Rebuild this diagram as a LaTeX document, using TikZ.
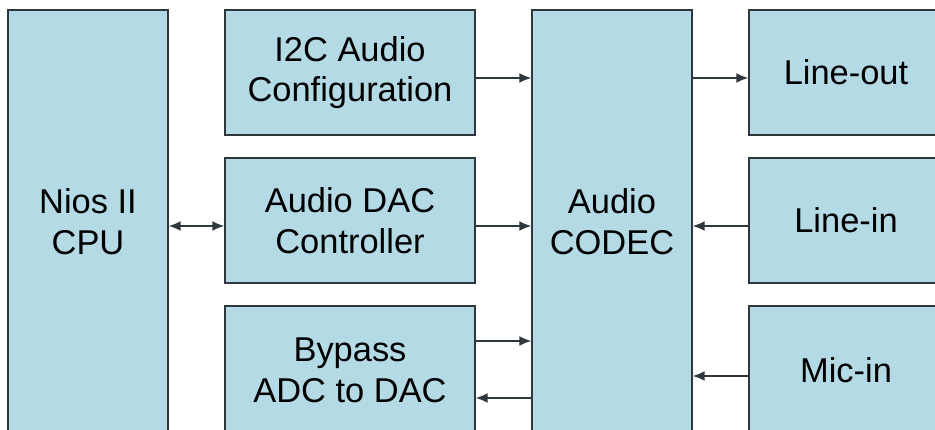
\documentclass[tikz,border=0pt]{standalone}
\usepackage{fontspec}
\setmainfont{Liberation Sans}
\usetikzlibrary{arrows.meta}
\definecolor{boxblue}{RGB}{180,218,230}
\definecolor{boxline}{RGB}{45,55,60}
\tikzset{
  >={Latex[length=8.5pt,width=7pt]},
  block/.style={draw=boxline,fill=boxblue,line width=1pt,inner sep=0pt,align=center,
    text=black,font=\fontsize{24.5}{29}\selectfont},
  block tall/.style={block,minimum width=4cm,minimum height=10.6cm},
  block mid/.style={block,minimum width=6.25cm,minimum height=3.125cm},
  block port/.style={block,minimum width=4.85cm,minimum height=3.125cm},
  link/.style={->,line width=1pt,boxline}
}

\begin{document}
\begin{tikzpicture}
\clip (0,0) rectangle (23.375,10.75);
\path
(2.2,5.2)      node[block tall] (nios) {Nios II\\CPU}
(8.75,8.9375)  node[block mid] (i2c) {I2C Audio\\Configuration}
(8.75,5.2375)  node[block mid] (dac) {Audio DAC\\Controller}
(8.75,1.5)     node[block mid,minimum height=3.2cm] (bypass) {Bypass\\ADC to DAC}
(15.3,5.2)     node[block tall] (codec) {Audio\\CODEC}
(21.15,8.9375) node[block port] (lineout) {Line-out}
(21.15,5.2375) node[block port] (linein) {Line-in}
(21.15,1.5)    node[block port,minimum height=3.2cm] (micin) {Mic-in};
% connection points
\path ([yshift=-1.375mm]i2c.east) coordinate (i2c out)
      ([yshift=-1.375mm]dac.east) coordinate (dac out)
      ([yshift=-1.375mm]dac.west) coordinate (dac in)
      ([yshift=7.25mm]bypass.east) coordinate (bypass out)
      ([yshift=-7mm]bypass.east) coordinate (bypass in)
      ([yshift=-1.5mm]micin.west) coordinate (mic out);
\draw[link,<->] (nios.east |- dac in) -- (dac in);
\draw[link] (i2c out) -- (i2c out -| codec.west);
\draw[link] (dac out) -- (dac out -| codec.west);
\draw[link] (bypass out) -- (bypass out -| codec.west);
\draw[link] (bypass in -| codec.west) -- (bypass in);
\draw[link] (codec.east |- i2c out) -- (lineout.west |- i2c out);
\draw[link] (linein.west |- dac out) -- (codec.east |- dac out);
\draw[link] (mic out) -- (codec.east |- mic out);
\end{tikzpicture}
\end{document}
